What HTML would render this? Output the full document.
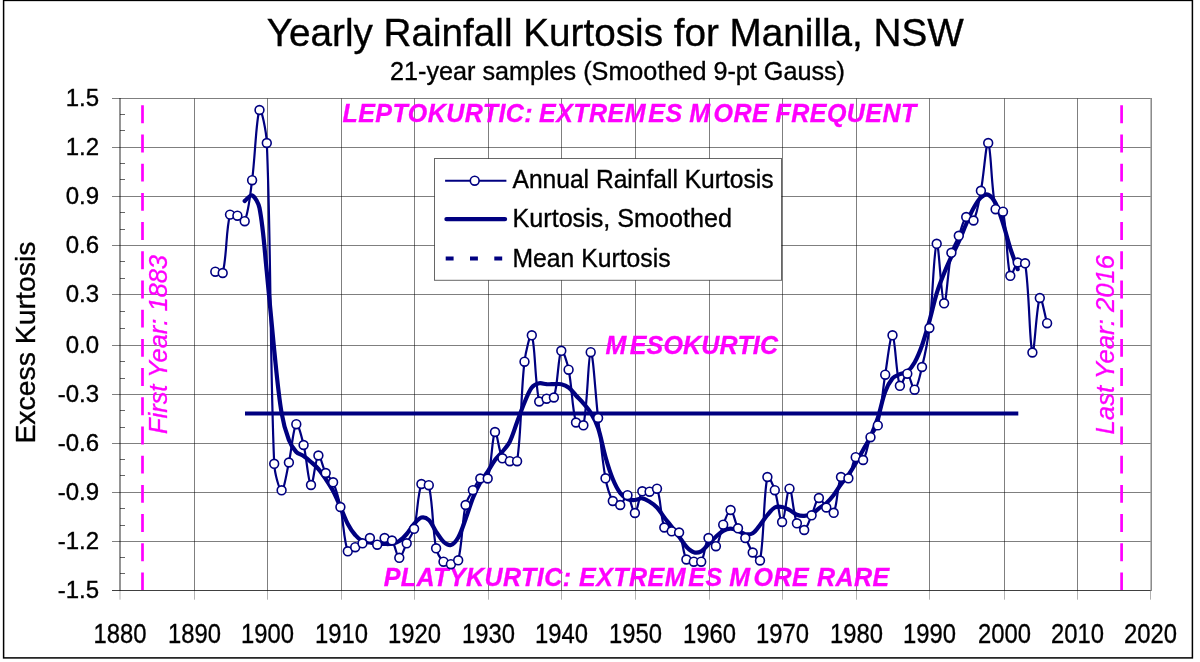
<!DOCTYPE html>
<html lang="en"><head><meta charset="utf-8"><title>Yearly Rainfall Kurtosis for Manilla, NSW</title>
<style>html,body{margin:0;padding:0;background:#fff}body{width:1200px;height:662px;overflow:hidden}svg{display:block}text{font-family:"Liberation Sans",Arial,sans-serif}.k{stroke:#000;stroke-width:.35px}.m{stroke:#ff00ff;stroke-width:.3px}</style></head><body>
<svg width="1200" height="662" viewBox="0 0 1200 662">
<rect x="0" y="0" width="1200" height="662" fill="#fff"/>
<rect x="3.6" y="0.4" width="1188.8" height="657.5" fill="#fff" stroke="#000" stroke-width="1.5"/>
<path d="M112.0 98.5H1150.5M112.0 147.5H1150.5M112.0 196.5H1150.5M112.0 245.5H1150.5M112.0 294.5H1150.5M112.0 345.5H1150.5M112.0 394.5H1150.5M112.0 443.5H1150.5M112.0 492.5H1150.5M112.0 541.5H1150.5M194.5 98.5V590.5M267.5 98.5V590.5M341.5 98.5V590.5M414.5 98.5V590.5M488.5 98.5V590.5M561.5 98.5V590.5M635.5 98.5V590.5M709.5 98.5V590.5M782.5 98.5V590.5M856.5 98.5V590.5M929.5 98.5V590.5M1004.5 98.5V590.5M1077.5 98.5V590.5" stroke="#000" stroke-opacity="0.5" stroke-width="1" fill="none"/>
<path d="M120.0 114.5H125.0M120.0 130.5H125.0M120.0 163.5H125.0M120.0 179.5H125.0M120.0 212.5H125.0M120.0 229.5H125.0M120.0 261.5H125.0M120.0 278.5H125.0M120.0 311.5H125.0M120.0 328.5H125.0M120.0 361.5H125.0M120.0 378.5H125.0M120.0 410.5H125.0M120.0 427.5H125.0M120.0 459.5H125.0M120.0 475.5H125.0M120.0 508.5H125.0M120.0 525.5H125.0M120.0 557.5H125.0M120.0 573.5H125.0" stroke="#000" stroke-opacity="0.6" stroke-width="1" fill="none"/>
<path d="M1151.2 98.0V591.0" stroke="#000" stroke-opacity="0.5" stroke-width="1.4" fill="none"/>
<path d="M120.0 590.5V599.7M194.5 590.5V599.7M267.5 590.5V599.7M341.5 590.5V599.7M414.5 590.5V599.7M488.5 590.5V599.7M561.5 590.5V599.7M635.5 590.5V599.7M709.5 590.5V599.7M782.5 590.5V599.7M856.5 590.5V599.7M929.5 590.5V599.7M1004.5 590.5V599.7M1077.5 590.5V599.7M1150.5 590.5V599.7" stroke="#000" stroke-opacity="0.3" stroke-width="1" fill="none"/>
<path d="M120.0 98.0V590.5" stroke="#000" stroke-opacity="0.6" stroke-width="1.4" fill="none"/>
<path d="M112.0 590.5H1150.5" stroke="#000" stroke-opacity="0.75" stroke-width="1" fill="none"/>
<text class="k" x="615.3" y="45.7" font-size="38" text-anchor="middle" textLength="697" lengthAdjust="spacingAndGlyphs">Yearly Rainfall Kurtosis for Manilla, NSW</text>
<text class="k" x="617.5" y="80" font-size="25" text-anchor="middle" textLength="455" lengthAdjust="spacingAndGlyphs">21-year samples (Smoothed 9-pt Gauss)</text>
<text class="k" x="99" y="105.9" font-size="24" text-anchor="end">1.5</text>
<text class="k" x="99" y="154.7" font-size="24" text-anchor="end">1.2</text>
<text class="k" x="99" y="204.0" font-size="24" text-anchor="end">0.9</text>
<text class="k" x="99" y="253.0" font-size="24" text-anchor="end">0.6</text>
<text class="k" x="99" y="302.1" font-size="24" text-anchor="end">0.3</text>
<text class="k" x="99" y="352.9" font-size="24" text-anchor="end">0.0</text>
<text class="k" x="99" y="402.1" font-size="24" text-anchor="end">-0.3</text>
<text class="k" x="99" y="450.9" font-size="24" text-anchor="end">-0.6</text>
<text class="k" x="99" y="499.9" font-size="24" text-anchor="end">-0.9</text>
<text class="k" x="99" y="549.0" font-size="24" text-anchor="end">-1.2</text>
<text class="k" x="99" y="597.6" font-size="24" text-anchor="end">-1.5</text>
<text class="k" x="120.0" y="642.6" font-size="28.4" text-anchor="middle" textLength="53" lengthAdjust="spacingAndGlyphs">1880</text>
<text class="k" x="194.5" y="642.6" font-size="28.4" text-anchor="middle" textLength="53" lengthAdjust="spacingAndGlyphs">1890</text>
<text class="k" x="267.5" y="642.6" font-size="28.4" text-anchor="middle" textLength="53" lengthAdjust="spacingAndGlyphs">1900</text>
<text class="k" x="341.5" y="642.6" font-size="28.4" text-anchor="middle" textLength="53" lengthAdjust="spacingAndGlyphs">1910</text>
<text class="k" x="414.5" y="642.6" font-size="28.4" text-anchor="middle" textLength="53" lengthAdjust="spacingAndGlyphs">1920</text>
<text class="k" x="488.5" y="642.6" font-size="28.4" text-anchor="middle" textLength="53" lengthAdjust="spacingAndGlyphs">1930</text>
<text class="k" x="561.5" y="642.6" font-size="28.4" text-anchor="middle" textLength="53" lengthAdjust="spacingAndGlyphs">1940</text>
<text class="k" x="635.5" y="642.6" font-size="28.4" text-anchor="middle" textLength="53" lengthAdjust="spacingAndGlyphs">1950</text>
<text class="k" x="709.5" y="642.6" font-size="28.4" text-anchor="middle" textLength="53" lengthAdjust="spacingAndGlyphs">1960</text>
<text class="k" x="782.5" y="642.6" font-size="28.4" text-anchor="middle" textLength="53" lengthAdjust="spacingAndGlyphs">1970</text>
<text class="k" x="856.5" y="642.6" font-size="28.4" text-anchor="middle" textLength="53" lengthAdjust="spacingAndGlyphs">1980</text>
<text class="k" x="929.5" y="642.6" font-size="28.4" text-anchor="middle" textLength="53" lengthAdjust="spacingAndGlyphs">1990</text>
<text class="k" x="1004.5" y="642.6" font-size="28.4" text-anchor="middle" textLength="53" lengthAdjust="spacingAndGlyphs">2000</text>
<text class="k" x="1077.5" y="642.6" font-size="28.4" text-anchor="middle" textLength="53" lengthAdjust="spacingAndGlyphs">2010</text>
<text class="k" x="1150.5" y="642.6" font-size="28.4" text-anchor="middle" textLength="53" lengthAdjust="spacingAndGlyphs">2020</text>
<text class="k" transform="translate(35.1 342.6) rotate(-90)" font-size="28" text-anchor="middle" textLength="202" lengthAdjust="spacingAndGlyphs">Excess Kurtosis</text>
<path d="M142.5 105.3V590" stroke="#ff00ff" stroke-width="2.7" stroke-dasharray="17.9 11.3" fill="none"/>
<path d="M1121.6 105.3V590" stroke="#ff00ff" stroke-width="2.7" stroke-dasharray="17.9 11.3" fill="none"/>
<text transform="translate(166.7 344.5) rotate(-90)" font-size="25" font-style="italic" fill="#ff00ff" class="m" text-anchor="middle" textLength="179" lengthAdjust="spacingAndGlyphs">First Year: 1883</text>
<text transform="translate(1114.2 344.7) rotate(-90)" font-size="25" font-style="italic" fill="#ff00ff" class="m" text-anchor="middle" textLength="179.5" lengthAdjust="spacingAndGlyphs">Last Year: 2016</text>
<text y="122" font-size="25" font-weight="bold" font-style="italic" fill="#ff00ff" class="m" letter-spacing="0.45"><tspan x="342.5">LEPTOKURTIC:</tspan> <tspan x="539" dx="0 0 0 0 0 0 2.4 0">EXTREMES</tspan> <tspan x="689.3" dx="0 3 0 0">MORE</tspan> <tspan x="775.6">FREQUENT</tspan></text>
<text y="353.8" font-size="25" font-weight="bold" font-style="italic" fill="#ff00ff" class="m" letter-spacing="0.45"><tspan x="605.6" dx="0 3 0 0 0 0 0 0 0 0" letter-spacing="0.2">MESOKURTIC</tspan></text>
<text y="586.3" font-size="25" font-weight="bold" font-style="italic" fill="#ff00ff" class="m" letter-spacing="0.45"><tspan x="383.7">PLATYKURTIC:</tspan> <tspan x="579" dx="0 0 0 0 0 0 2.4 0">EXTREMES</tspan> <tspan x="729.3" dx="0 3 0 0">MORE</tspan> <tspan x="816.9">RARE</tspan></text>
<path d="M245.0 413.5H1018.3" stroke="#000080" stroke-width="4.2" fill="none"/>
<path d="M215.3 271.7C217.8 272.1 222.1 275.1 222.7 273.0C227.0 256.1 225.7 231.6 230.0 214.6C230.6 212.5 235.2 214.7 237.4 215.7C240.1 216.9 243.9 223.3 244.7 221.2C248.8 211.5 250.3 194.0 252.1 180.2C255.2 156.9 256.1 118.4 259.5 110.0C261.1 106.0 266.4 131.8 266.8 143.0C271.3 249.7 269.7 357.2 274.2 463.8C274.6 472.9 279.2 490.5 281.6 490.3C284.1 490.1 286.8 471.9 288.9 462.5C291.7 449.8 293.1 427.9 296.3 424.2C298.0 422.1 301.9 437.9 303.6 445.0C306.8 458.1 308.2 483.0 311.0 485.0C313.1 486.5 315.3 458.0 318.4 455.5C320.2 454.0 322.7 467.5 325.7 473.0C327.6 476.4 331.5 478.7 333.1 482.3C336.4 490.1 338.7 498.6 340.4 507.0C343.6 521.6 343.7 540.0 347.8 551.3C348.6 553.4 352.7 548.5 355.2 547.2C357.6 545.9 360.2 544.8 362.5 543.3C365.1 541.7 367.5 537.8 369.9 538.0C372.5 538.2 374.8 544.7 377.2 544.7C379.7 544.7 381.9 538.8 384.6 538.0C386.8 537.4 390.5 538.6 392.0 540.5C395.4 545.2 396.7 557.3 399.3 557.8C401.6 558.2 404.2 548.1 406.7 543.3C409.1 538.5 412.8 534.0 414.1 528.8C417.7 514.2 417.2 496.5 421.4 484.0C422.1 481.9 428.3 482.9 428.8 485.2C433.2 504.4 432.2 527.7 436.1 548.3C437.1 553.2 440.2 558.2 443.5 561.7C445.2 563.5 448.5 564.4 450.9 564.2C453.4 564.0 457.6 562.9 458.2 560.3C462.5 543.1 461.8 523.0 465.6 505.0C466.7 499.7 470.3 495.0 472.9 490.2C475.2 486.2 477.1 481.0 480.3 478.5C482.0 477.1 487.0 480.6 487.7 478.5C491.9 465.1 491.9 436.3 495.0 432.0C496.8 429.5 498.6 450.8 502.4 458.3C503.5 460.5 507.2 460.7 509.8 461.2C512.1 461.7 516.8 463.5 517.1 461.2C521.7 430.3 520.6 394.6 524.5 361.7C525.5 352.7 530.4 331.4 531.8 335.3C535.3 344.7 534.8 382.6 539.2 401.5C539.7 403.7 544.0 399.4 546.6 398.7C548.9 398.1 553.3 399.7 553.9 397.5C558.2 383.7 557.9 357.3 561.3 350.8C562.8 348.0 567.3 363.1 568.6 369.7C572.2 387.0 571.7 406.4 576.0 422.5C576.6 424.9 582.9 427.6 583.4 425.3C587.8 404.1 588.2 353.5 590.7 352.2C593.1 351.0 595.5 396.1 598.1 418.0C600.4 438.1 601.9 458.4 605.5 478.3C606.8 486.1 609.2 494.4 612.8 501.0C614.1 503.3 618.2 505.8 620.2 505.0C623.1 503.9 625.6 494.2 627.5 495.2C630.5 496.8 632.7 513.6 634.9 513.0C637.6 512.3 638.5 496.7 642.3 491.3C643.5 489.6 647.3 492.1 649.6 491.7C652.2 491.3 656.2 486.7 657.0 488.7C661.1 498.6 660.3 515.8 664.3 527.5C665.2 530.0 669.1 530.4 671.7 531.3C674.0 532.1 678.0 530.5 679.1 532.5C682.9 539.9 682.6 551.9 686.4 559.5C687.5 561.6 691.3 561.3 693.8 561.7C696.2 562.1 700.0 563.5 701.2 561.7C704.9 555.6 705.1 541.6 708.5 538.0C710.0 536.4 714.3 547.6 715.9 546.2C719.2 543.2 720.4 531.7 723.2 524.7C725.3 519.6 728.4 509.5 730.6 510.0C733.3 510.7 734.9 522.5 738.0 528.3C739.8 531.9 743.2 534.5 745.3 538.0C748.1 542.6 749.7 548.0 752.7 552.5C754.6 555.5 759.5 563.4 760.0 560.5C764.4 538.2 763.2 496.9 767.4 477.0C768.2 473.4 773.2 485.5 774.8 490.2C778.1 500.5 779.7 522.2 782.1 522.0C784.6 521.7 787.1 488.5 789.5 488.7C792.0 488.9 793.0 512.6 796.9 523.3C797.9 526.3 802.4 531.0 804.2 530.0C807.3 528.3 809.3 520.3 811.6 515.3C814.2 509.6 815.9 499.6 818.9 498.0C820.8 497.0 823.5 504.7 826.3 507.5C828.4 509.6 832.7 514.8 833.7 512.8C837.6 504.7 836.9 486.5 841.0 477.0C841.9 475.0 847.2 480.0 848.4 478.3C852.1 473.4 852.1 461.7 855.7 457.2C857.0 455.6 861.9 461.6 863.1 460.0C866.8 455.0 867.4 444.5 870.5 437.2C872.3 433.0 876.8 429.8 877.8 425.4C881.7 409.0 882.4 391.6 885.2 374.7C887.3 361.5 890.4 333.7 892.5 335.3C895.3 337.4 896.1 375.8 899.9 385.8C901.0 388.6 905.1 373.1 907.3 373.7C910.0 374.4 912.6 390.6 914.6 389.7C917.5 388.4 920.2 374.7 922.0 367.0C925.1 354.2 927.8 341.1 929.4 328.0C932.7 300.1 933.8 248.6 936.7 243.8C938.8 240.4 941.4 301.7 944.1 303.3C946.3 304.7 947.8 269.3 951.4 252.8C952.7 246.8 956.5 241.5 958.8 235.8C961.4 229.6 962.7 220.6 966.2 217.0C967.6 215.5 972.5 222.3 973.5 220.5C977.4 213.6 979.0 200.8 980.9 190.8C983.9 175.0 986.2 140.4 988.2 143.0C991.1 146.6 991.2 188.7 995.6 209.2C996.1 211.6 1002.4 209.3 1003.0 211.7C1007.4 231.5 1006.4 262.1 1010.3 275.8C1011.3 279.0 1014.4 265.3 1017.7 262.5C1019.3 261.1 1024.7 261.0 1025.1 263.3C1029.6 291.0 1029.4 345.3 1032.4 352.5C1034.3 356.9 1036.5 304.6 1039.8 298.0C1041.4 294.8 1044.7 314.8 1047.1 323.2" stroke="#000080" stroke-width="2.2" fill="none" stroke-linejoin="round" stroke-linecap="round"/>
<path d="M244.7 201.0C247.2 199.1 250.2 194.4 252.1 195.3C255.1 196.7 258.6 203.3 259.5 208.0C263.5 228.8 264.6 250.6 266.8 272.0C269.5 298.0 271.5 324.0 274.2 350.0C276.4 371.0 278.1 392.2 281.6 413.0C283.1 422.2 285.6 431.4 288.9 440.0C290.6 444.4 293.2 448.7 296.3 452.0C298.1 454.0 301.3 454.4 303.6 456.0C306.2 457.8 308.6 459.9 311.0 462.0C313.5 464.2 316.2 466.5 318.4 469.0C321.1 472.1 323.4 475.6 325.7 479.0C328.3 482.9 330.9 486.9 333.1 491.0C335.8 496.2 338.1 501.6 340.4 507.0C343.0 512.6 344.9 518.6 347.8 524.0C349.8 527.9 352.3 531.7 355.2 535.0C357.2 537.4 359.8 539.6 362.5 541.0C364.7 542.1 367.4 542.0 369.9 542.5C372.3 542.9 374.8 543.4 377.2 543.7C379.7 543.9 382.2 544.0 384.6 544.0C387.1 544.0 389.6 544.2 392.0 543.7C394.5 543.2 397.2 542.4 399.3 541.0C402.1 539.2 404.5 536.5 406.7 534.0C409.4 530.9 411.3 527.1 414.1 524.0C416.2 521.6 418.7 518.2 421.4 517.5C423.6 516.9 427.0 518.3 428.8 520.0C431.9 523.0 433.6 527.9 436.1 531.7C438.5 535.1 440.5 539.0 443.5 541.7C445.4 543.4 448.7 545.6 450.9 545.0C453.6 544.2 456.5 540.5 458.2 537.5C461.4 531.8 463.3 525.2 465.6 519.0C468.2 512.1 470.2 504.9 472.9 498.0C475.1 492.7 477.5 487.5 480.3 482.5C482.4 478.7 485.3 475.3 487.7 471.7C490.2 467.8 492.3 463.7 495.0 460.0C497.2 457.0 500.1 454.6 502.4 451.7C505.0 448.5 507.9 445.4 509.8 441.7C512.8 435.5 514.7 428.6 517.1 422.0C519.6 415.5 521.8 408.9 524.5 402.5C526.7 397.4 528.6 391.7 531.8 387.5C533.5 385.3 536.6 383.9 539.2 383.3C541.5 382.8 544.1 384.0 546.6 384.2C549.0 384.3 551.5 384.2 553.9 384.2C556.4 384.2 558.9 383.7 561.3 384.2C563.9 384.8 566.6 385.9 568.6 387.5C571.5 389.7 573.5 392.8 576.0 395.5C578.4 398.1 581.0 400.6 583.4 403.3C586.0 406.3 588.7 409.3 590.7 412.7C593.6 417.5 596.3 422.7 598.1 428.0C601.2 437.4 602.7 447.4 605.5 457.0C607.6 464.4 609.9 471.9 612.8 479.0C614.8 483.9 617.1 488.8 620.2 493.0C622.0 495.5 624.8 497.7 627.5 499.0C629.7 500.0 632.5 500.1 634.9 500.0C637.4 499.9 639.9 498.0 642.3 498.3C644.8 498.6 647.3 500.3 649.6 501.7C652.3 503.3 654.9 505.2 657.0 507.5C659.8 510.5 661.8 514.2 664.3 517.5C666.7 520.6 669.3 523.6 671.7 526.7C674.2 530.0 676.6 533.4 679.1 536.7C681.5 540.0 683.6 543.7 686.4 546.7C688.5 548.9 691.1 551.4 693.8 552.2C696.0 552.9 699.1 552.4 701.2 551.3C704.0 549.8 706.1 546.6 708.5 544.2C711.0 541.7 713.3 539.1 715.9 536.7C718.2 534.6 720.5 532.3 723.2 530.8C725.4 529.6 728.1 528.7 730.6 528.7C733.1 528.7 735.6 529.9 738.0 530.8C740.5 531.7 742.8 533.8 745.3 534.2C747.7 534.6 750.7 534.5 752.7 533.3C755.6 531.5 757.7 527.9 760.0 525.0C762.6 521.8 764.7 518.2 767.4 515.0C769.7 512.3 771.9 509.1 774.8 507.5C776.8 506.4 779.8 506.6 782.1 507.0C784.7 507.4 787.2 508.8 789.5 510.0C792.1 511.3 794.2 513.7 796.9 514.7C799.1 515.6 801.8 515.9 804.2 515.8C806.7 515.7 809.4 515.3 811.6 514.2C814.3 512.8 816.4 510.2 818.9 508.3C821.3 506.5 824.1 505.3 826.3 503.3C829.0 500.8 831.4 497.9 833.7 495.0C836.3 491.6 838.4 487.7 841.0 484.2C843.3 481.0 846.1 478.2 848.4 475.0C851.0 471.2 853.4 467.3 855.7 463.3C858.3 458.9 860.7 454.4 863.1 450.0C865.6 445.6 868.4 441.3 870.5 436.7C873.3 430.6 875.7 424.4 877.8 418.0C880.7 409.4 882.0 400.2 885.2 391.7C886.9 387.0 889.4 382.1 892.5 378.3C894.3 376.2 897.4 375.3 899.9 374.2C902.3 373.1 905.3 373.3 907.3 371.7C910.2 369.4 912.7 365.9 914.6 362.5C917.6 357.2 919.9 351.3 922.0 345.5C924.8 337.5 927.0 329.2 929.4 321.0C932.0 311.8 933.9 302.4 936.7 293.3C938.8 286.5 941.4 279.9 944.1 273.3C946.3 267.7 948.9 262.2 951.4 256.7C953.8 251.7 956.5 246.8 958.8 241.7C961.4 235.9 963.6 229.8 966.2 224.0C968.5 218.7 970.7 213.3 973.5 208.3C975.6 204.5 977.8 200.3 980.9 197.5C982.7 195.8 986.2 193.9 988.2 194.7C991.1 195.8 993.9 200.0 995.6 203.3C998.8 209.5 1000.8 216.6 1003.0 223.3C1005.7 231.6 1007.7 240.0 1010.3 248.3C1012.6 255.3 1015.2 262.2 1017.7 269.2" stroke="#000080" stroke-width="4.2" fill="none" stroke-linejoin="round" stroke-linecap="round"/>
<g fill="#fff" stroke="#000080" stroke-width="1.6">
<circle cx="215.3" cy="271.7" r="4.4"/>
<circle cx="222.7" cy="273.0" r="4.4"/>
<circle cx="230.0" cy="214.6" r="4.4"/>
<circle cx="237.4" cy="215.7" r="4.4"/>
<circle cx="244.7" cy="221.2" r="4.4"/>
<circle cx="252.1" cy="180.2" r="4.4"/>
<circle cx="259.5" cy="110.0" r="4.4"/>
<circle cx="266.8" cy="143.0" r="4.4"/>
<circle cx="274.2" cy="463.8" r="4.4"/>
<circle cx="281.6" cy="490.3" r="4.4"/>
<circle cx="288.9" cy="462.5" r="4.4"/>
<circle cx="296.3" cy="424.2" r="4.4"/>
<circle cx="303.6" cy="445.0" r="4.4"/>
<circle cx="311.0" cy="485.0" r="4.4"/>
<circle cx="318.4" cy="455.5" r="4.4"/>
<circle cx="325.7" cy="473.0" r="4.4"/>
<circle cx="333.1" cy="482.3" r="4.4"/>
<circle cx="340.4" cy="507.0" r="4.4"/>
<circle cx="347.8" cy="551.3" r="4.4"/>
<circle cx="355.2" cy="547.2" r="4.4"/>
<circle cx="362.5" cy="543.3" r="4.4"/>
<circle cx="369.9" cy="538.0" r="4.4"/>
<circle cx="377.2" cy="544.7" r="4.4"/>
<circle cx="384.6" cy="538.0" r="4.4"/>
<circle cx="392.0" cy="540.5" r="4.4"/>
<circle cx="399.3" cy="557.8" r="4.4"/>
<circle cx="406.7" cy="543.3" r="4.4"/>
<circle cx="414.1" cy="528.8" r="4.4"/>
<circle cx="421.4" cy="484.0" r="4.4"/>
<circle cx="428.8" cy="485.2" r="4.4"/>
<circle cx="436.1" cy="548.3" r="4.4"/>
<circle cx="443.5" cy="561.7" r="4.4"/>
<circle cx="450.9" cy="564.2" r="4.4"/>
<circle cx="458.2" cy="560.3" r="4.4"/>
<circle cx="465.6" cy="505.0" r="4.4"/>
<circle cx="472.9" cy="490.2" r="4.4"/>
<circle cx="480.3" cy="478.5" r="4.4"/>
<circle cx="487.7" cy="478.5" r="4.4"/>
<circle cx="495.0" cy="432.0" r="4.4"/>
<circle cx="502.4" cy="458.3" r="4.4"/>
<circle cx="509.8" cy="461.2" r="4.4"/>
<circle cx="517.1" cy="461.2" r="4.4"/>
<circle cx="524.5" cy="361.7" r="4.4"/>
<circle cx="531.8" cy="335.3" r="4.4"/>
<circle cx="539.2" cy="401.5" r="4.4"/>
<circle cx="546.6" cy="398.7" r="4.4"/>
<circle cx="553.9" cy="397.5" r="4.4"/>
<circle cx="561.3" cy="350.8" r="4.4"/>
<circle cx="568.6" cy="369.7" r="4.4"/>
<circle cx="576.0" cy="422.5" r="4.4"/>
<circle cx="583.4" cy="425.3" r="4.4"/>
<circle cx="590.7" cy="352.2" r="4.4"/>
<circle cx="598.1" cy="418.0" r="4.4"/>
<circle cx="605.5" cy="478.3" r="4.4"/>
<circle cx="612.8" cy="501.0" r="4.4"/>
<circle cx="620.2" cy="505.0" r="4.4"/>
<circle cx="627.5" cy="495.2" r="4.4"/>
<circle cx="634.9" cy="513.0" r="4.4"/>
<circle cx="642.3" cy="491.3" r="4.4"/>
<circle cx="649.6" cy="491.7" r="4.4"/>
<circle cx="657.0" cy="488.7" r="4.4"/>
<circle cx="664.3" cy="527.5" r="4.4"/>
<circle cx="671.7" cy="531.3" r="4.4"/>
<circle cx="679.1" cy="532.5" r="4.4"/>
<circle cx="686.4" cy="559.5" r="4.4"/>
<circle cx="693.8" cy="561.7" r="4.4"/>
<circle cx="701.2" cy="561.7" r="4.4"/>
<circle cx="708.5" cy="538.0" r="4.4"/>
<circle cx="715.9" cy="546.2" r="4.4"/>
<circle cx="723.2" cy="524.7" r="4.4"/>
<circle cx="730.6" cy="510.0" r="4.4"/>
<circle cx="738.0" cy="528.3" r="4.4"/>
<circle cx="745.3" cy="538.0" r="4.4"/>
<circle cx="752.7" cy="552.5" r="4.4"/>
<circle cx="760.0" cy="560.5" r="4.4"/>
<circle cx="767.4" cy="477.0" r="4.4"/>
<circle cx="774.8" cy="490.2" r="4.4"/>
<circle cx="782.1" cy="522.0" r="4.4"/>
<circle cx="789.5" cy="488.7" r="4.4"/>
<circle cx="796.9" cy="523.3" r="4.4"/>
<circle cx="804.2" cy="530.0" r="4.4"/>
<circle cx="811.6" cy="515.3" r="4.4"/>
<circle cx="818.9" cy="498.0" r="4.4"/>
<circle cx="826.3" cy="507.5" r="4.4"/>
<circle cx="833.7" cy="512.8" r="4.4"/>
<circle cx="841.0" cy="477.0" r="4.4"/>
<circle cx="848.4" cy="478.3" r="4.4"/>
<circle cx="855.7" cy="457.2" r="4.4"/>
<circle cx="863.1" cy="460.0" r="4.4"/>
<circle cx="870.5" cy="437.2" r="4.4"/>
<circle cx="877.8" cy="425.4" r="4.4"/>
<circle cx="885.2" cy="374.7" r="4.4"/>
<circle cx="892.5" cy="335.3" r="4.4"/>
<circle cx="899.9" cy="385.8" r="4.4"/>
<circle cx="907.3" cy="373.7" r="4.4"/>
<circle cx="914.6" cy="389.7" r="4.4"/>
<circle cx="922.0" cy="367.0" r="4.4"/>
<circle cx="929.4" cy="328.0" r="4.4"/>
<circle cx="936.7" cy="243.8" r="4.4"/>
<circle cx="944.1" cy="303.3" r="4.4"/>
<circle cx="951.4" cy="252.8" r="4.4"/>
<circle cx="958.8" cy="235.8" r="4.4"/>
<circle cx="966.2" cy="217.0" r="4.4"/>
<circle cx="973.5" cy="220.5" r="4.4"/>
<circle cx="980.9" cy="190.8" r="4.4"/>
<circle cx="988.2" cy="143.0" r="4.4"/>
<circle cx="995.6" cy="209.2" r="4.4"/>
<circle cx="1003.0" cy="211.7" r="4.4"/>
<circle cx="1010.3" cy="275.8" r="4.4"/>
<circle cx="1017.7" cy="262.5" r="4.4"/>
<circle cx="1025.1" cy="263.3" r="4.4"/>
<circle cx="1032.4" cy="352.5" r="4.4"/>
<circle cx="1039.8" cy="298.0" r="4.4"/>
<circle cx="1047.1" cy="323.2" r="4.4"/>
</g>
<rect x="434.5" y="158.5" width="347" height="121.8" fill="#fff" stroke="#000" stroke-opacity="0.6" stroke-width="1"/>
<path d="M445.1 180.7H506.4" stroke="#000080" stroke-width="2.1" fill="none"/>
<circle cx="474.7" cy="180.7" r="4.4" fill="#fff" stroke="#000080" stroke-width="1.6"/>
<path d="M446.5 219.1H505" stroke="#000080" stroke-width="4.4" stroke-linecap="round" fill="none"/>
<path d="M445.7 258.5H503" stroke="#000080" stroke-width="4.2" stroke-dasharray="7.9 16.4" fill="none"/>
<text class="k" x="512.5" y="187.5" font-size="25" textLength="261" lengthAdjust="spacingAndGlyphs">Annual Rainfall Kurtosis</text>
<text class="k" x="512.5" y="226.9" font-size="25" textLength="219.5" lengthAdjust="spacingAndGlyphs">Kurtosis, Smoothed</text>
<text class="k" x="512.5" y="266.9" font-size="25" textLength="158" lengthAdjust="spacingAndGlyphs">Mean Kurtosis</text>
</svg></body></html>
